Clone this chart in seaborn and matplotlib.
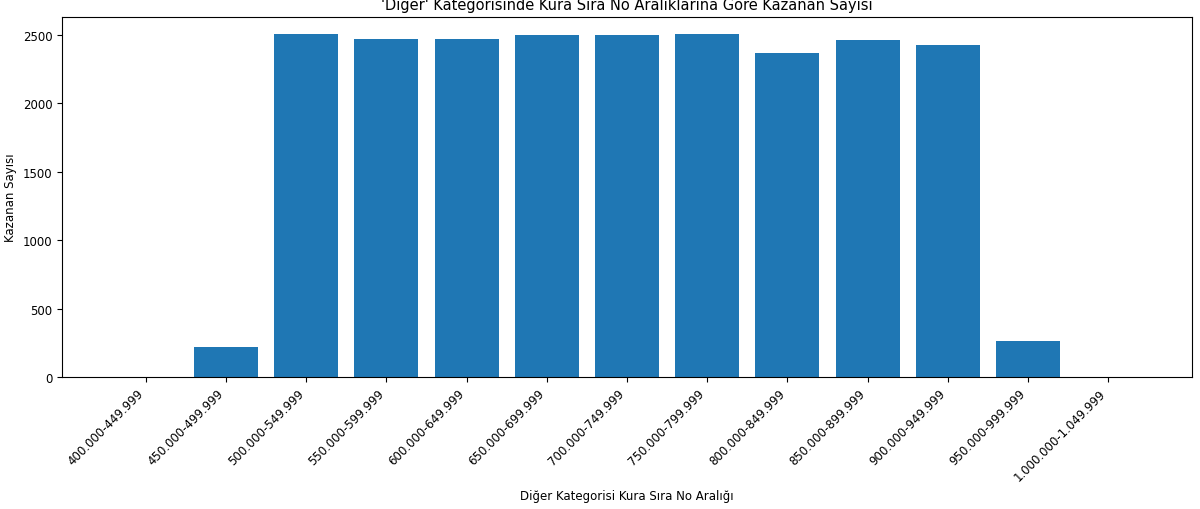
import matplotlib
matplotlib.use("Agg")
import matplotlib.pyplot as plt
import seaborn as sns
import pandas as pd

categories = ["400.000-449.999","450.000-499.999","500.000-549.999","550.000-599.999",
              "600.000-649.999","650.000-699.999","700.000-749.999","750.000-799.999",
              "800.000-849.999","850.000-899.999","900.000-949.999","950.000-999.999",
              "1.000.000-1.049.999"]
values = [0, 218, 2508, 2472, 2474, 2500, 2500, 2506, 2372, 2462, 2425, 262, 0]

plt.rcParams["font.size"] = 8.5
df = pd.DataFrame({"cat": categories, "val": values})
fig, ax = plt.subplots(figsize=(12, 5.1), dpi=100)
sns.barplot(data=df, x="cat", y="val", color="#1f77b4", saturation=1, width=0.8, ax=ax)
ax.set_xlim(-1.04, len(categories) - 1 + 1.04)
ax.set_title("'Diğer' Kategorisinde Kura Sıra No Aralıklarına Göre Kazanan Sayısı", fontsize=10.5)
ax.set_xlabel("Diğer Kategorisi Kura Sıra No Aralığı", fontsize=8.5)
ax.set_ylabel("Kazanan Sayısı", fontsize=8.5)
ax.tick_params(labelsize=8.5)
plt.setp(ax.get_xticklabels(), rotation=45, ha="right")
plt.subplots_adjust(left=0.052, right=0.993, top=0.965, bottom=0.259)
fig.savefig("out.png")
